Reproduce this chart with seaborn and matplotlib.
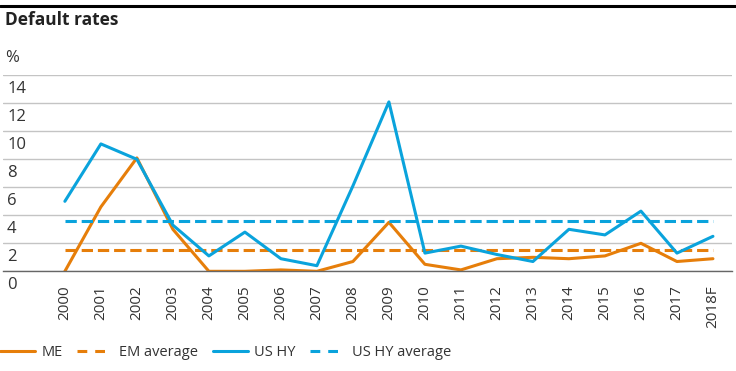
import pandas as pd
import matplotlib.pyplot as plt
import matplotlib.transforms as mtransforms
import seaborn as sns

years = ['2000', '2001', '2002', '2003', '2004', '2005', '2006', '2007', '2008', '2009',
         '2010', '2011', '2012', '2013', '2014', '2015', '2016', '2017', '2018F']
me = [0.0, 4.6, 8.1, 3.0, 0.0, 0.0, 0.1, 0.0, 0.7, 3.5,
      0.5, 0.1, 0.9, 1.0, 0.9, 1.1, 2.0, 0.7, 0.9]
us_hy = [5.0, 9.1, 8.0, 3.3, 1.1, 2.8, 0.9, 0.4, 6.1, 12.1,
         1.3, 1.8, 1.2, 0.7, 3.0, 2.6, 4.3, 1.3, 2.5]
em_average = 1.5
us_hy_average = 3.6
y_ticks = [0, 2, 4, 6, 8, 10, 12, 14]

ORANGE = '#E67E0A'
BLUE = '#0AA3DC'
TEXT = '#333333'

sns.set_theme(style='white')
plt.rcParams['font.family'] = ['Open Sans', 'DejaVu Sans']

df = pd.DataFrame({'year': years, 'ME': me, 'US HY': us_hy})
df['EM average'] = em_average
df['US HY average'] = us_hy_average
df['x'] = range(len(years))

fig = plt.figure(figsize=(7.36, 3.71), dpi=100)
ax = fig.add_axes([0.004, 0.2687, 0.9906, 0.5283])

styles = [('ME', ORANGE, '-'), ('EM average', ORANGE, '--'),
          ('US HY', BLUE, '-'), ('US HY average', BLUE, '--')]
for col, color, ls in styles:
    line_kw = dict(dashes=(4.5, 2.6)) if ls == '--' else {}
    sns.lineplot(data=df, x='x', y=col, ax=ax, color=color, linewidth=2.2,
                 linestyle=ls, label=col, **line_kw)

ax.set_xlim(-1.72, 18.53)
ax.set_ylim(0, 14)
ax.set_yticks(y_ticks)
ax.set_yticklabels([str(t) for t in y_ticks])
ax.set_xticks(df['x'])
ax.set_xticklabels(years, rotation=90)
ax.set_xlabel('')
ax.set_ylabel('')

for s in ['top', 'right', 'left']:
    ax.spines[s].set_visible(False)
ax.spines['bottom'].set_color('#666666')
ax.spines['bottom'].set_linewidth(1.0)
ax.yaxis.grid(True, color='#C4C4C4', linewidth=1.0)
ax.set_axisbelow(True)

ax.tick_params(axis='x', length=0, pad=10, labelsize=11, labelcolor=TEXT)
ax.tick_params(axis='y', length=0, pad=-3, labelsize=12, labelcolor=TEXT)
# labels sit just below their gridline in the original
shift = mtransforms.ScaledTranslation(0, -12 / 100, fig.dpi_scale_trans)
for lab in ax.get_yticklabels():
    lab.set_horizontalalignment('left')
    lab.set_transform(lab.get_transform() + shift)

leg = ax.legend(loc='center left', bbox_to_anchor=(-0.004, -0.413), ncol=4, frameon=False,
                prop={'family': 'Open Sans', 'size': 10.5}, handlelength=2.4,
                handletextpad=0.45, columnspacing=1.0, borderaxespad=0, borderpad=0,
                labelcolor=TEXT)
for h in leg.get_lines():
    if h.get_linestyle() == '--':
        h.set_dashes((3.2, 2.6))

fig.add_artist(plt.Line2D([0, 1], [0.984, 0.984], color='black', linewidth=2.2,
                          transform=fig.transFigure))
fig.text(0.007, 0.945, 'Default rates', fontsize=12.5, fontweight='bold',
         color='#222222', va='center', ha='left')
fig.text(0.007, 0.845, '%', fontsize=12, color=TEXT, va='center', ha='left')

plt.savefig('out.png', dpi=100)
